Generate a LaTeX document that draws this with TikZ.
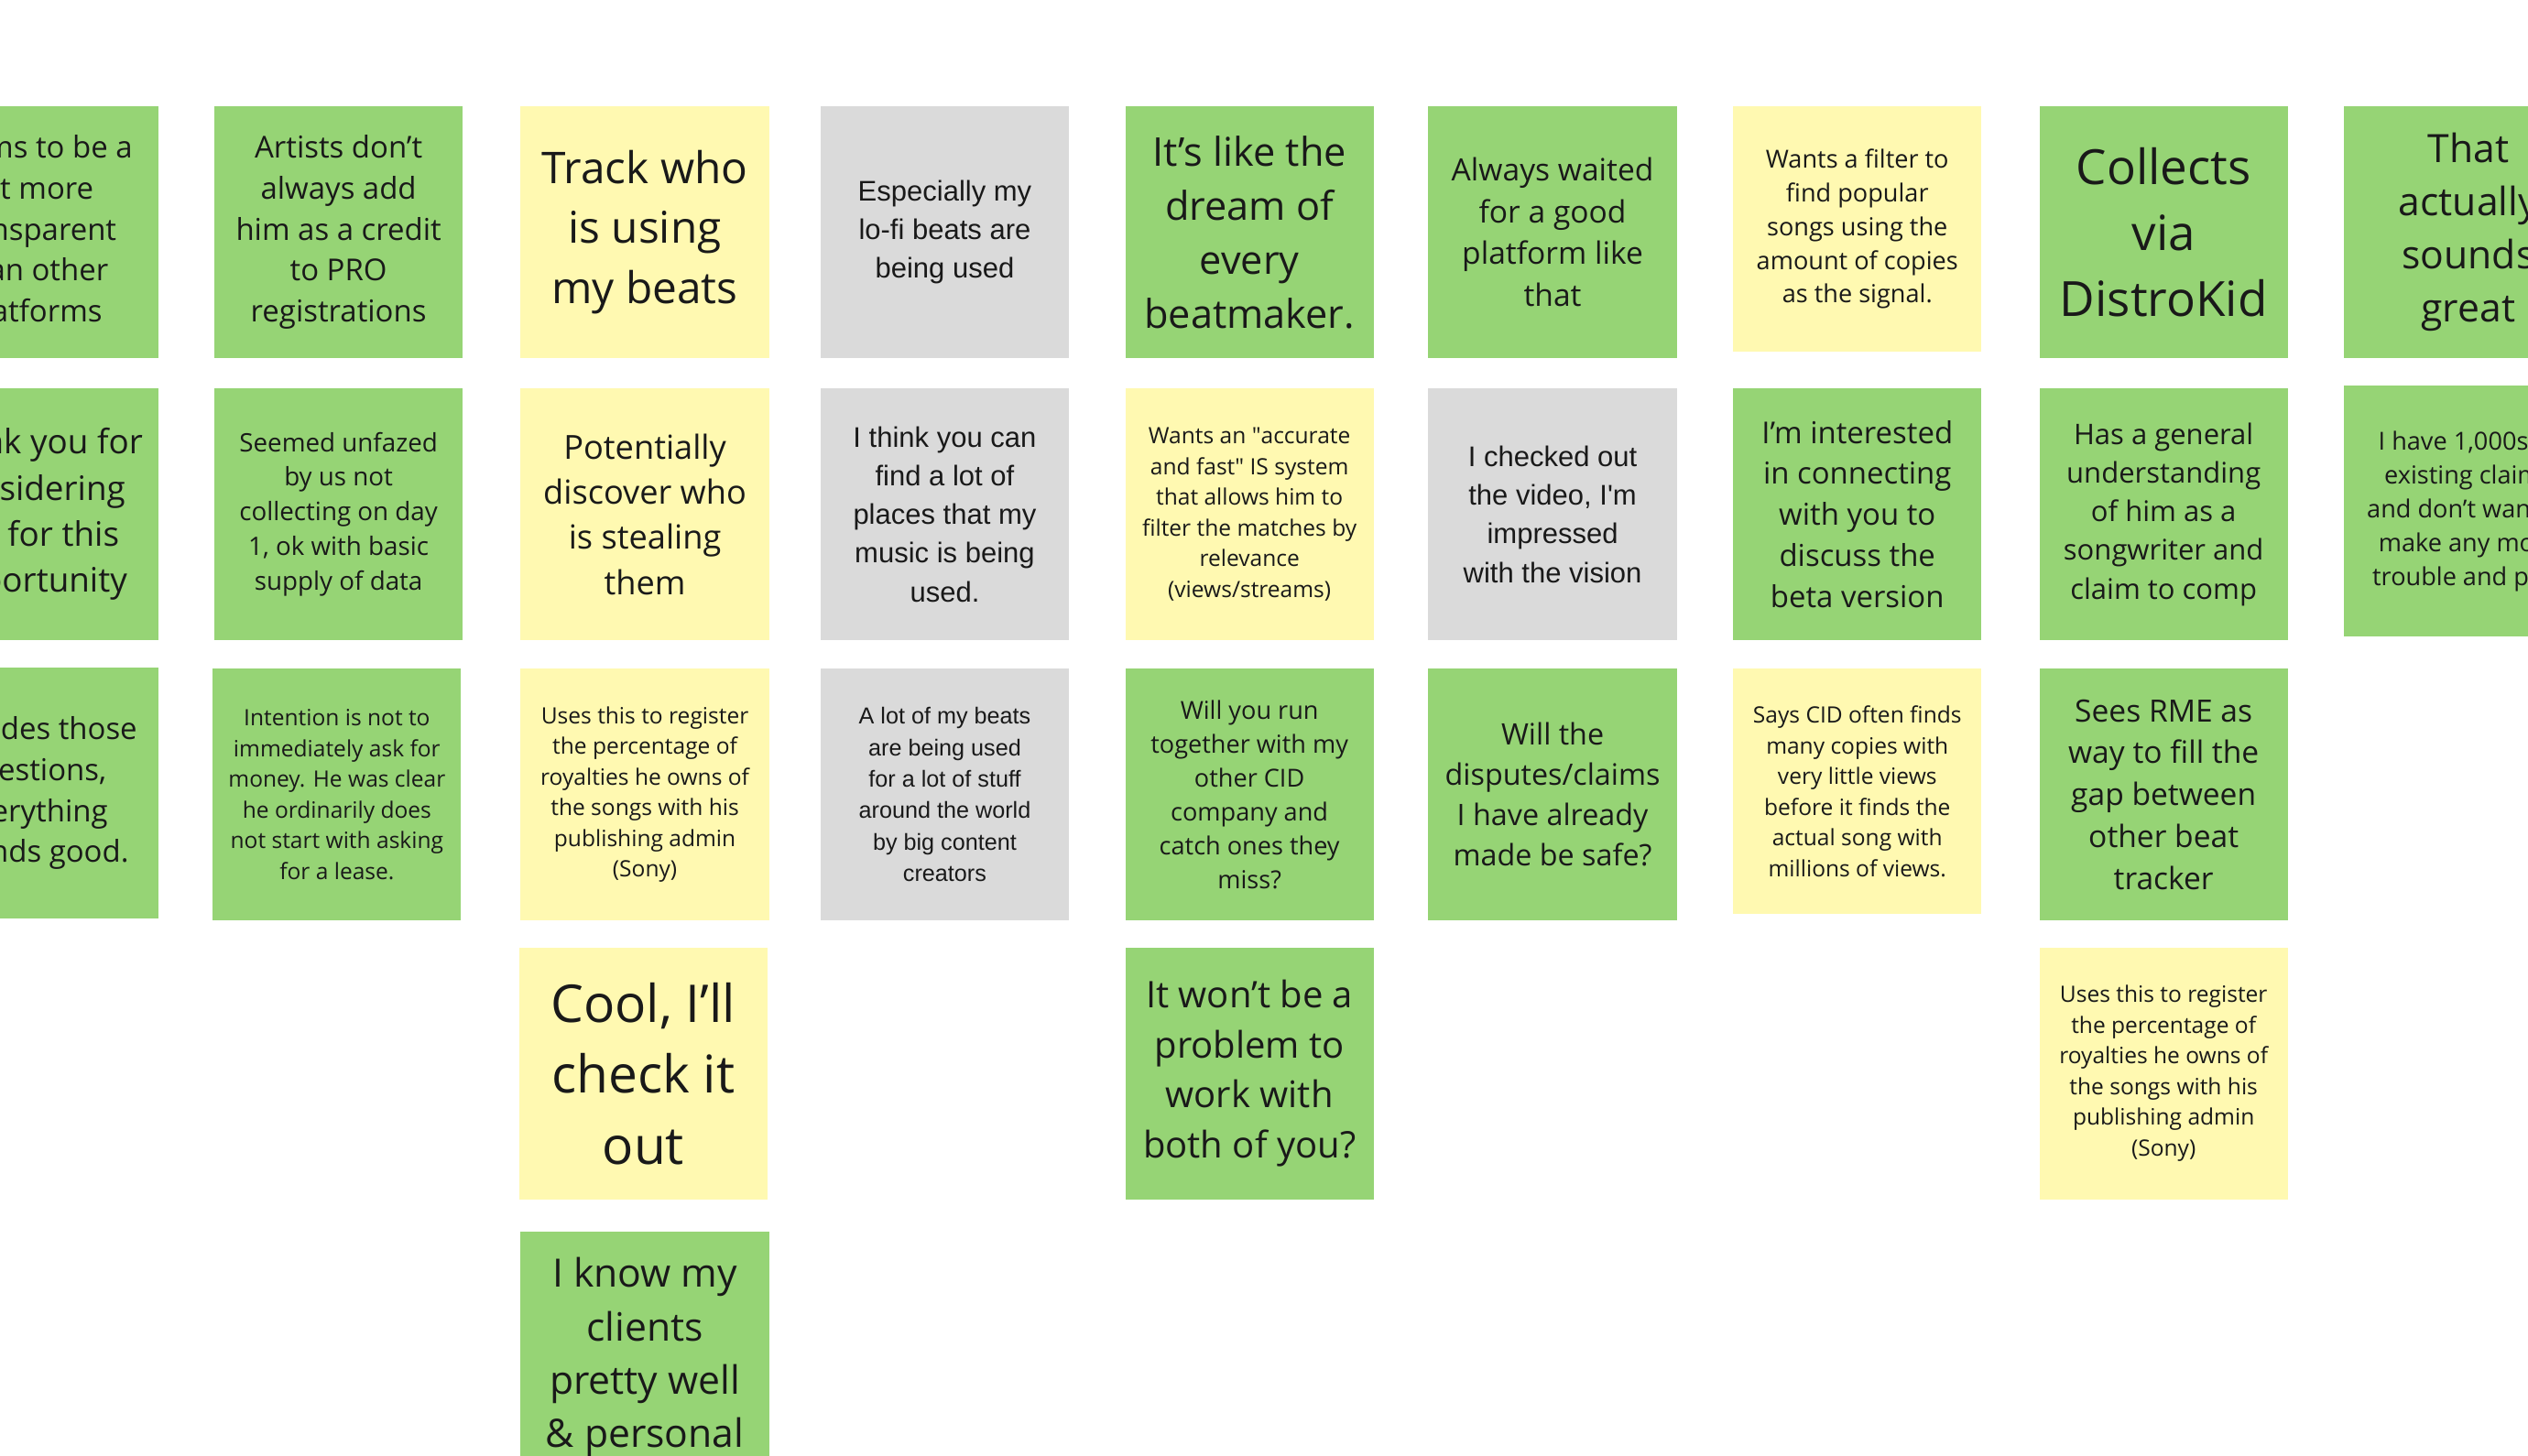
\documentclass[tikz,border=0pt]{standalone}
\usepackage{fontspec}
\setmainfont{Open Sans}
\newfontfamily\arialish{Liberation Sans}
\usetikzlibrary{positioning}
\definecolor{stickygreen}{RGB}{150,212,117}
\definecolor{stickyyellow}{RGB}{255,249,177}
\definecolor{stickygray}{RGB}{218,218,218}
\let\notefam\relax

\begin{document}
\begin{tikzpicture}[x=0.01cm, y=-0.01cm]
\tikzset{note/.style={rectangle, minimum width=1.54cm, minimum height=1.56cm,
                      align=center, inner sep=0pt, text=black!90},
  fs/.style 2 args={font={\notefam\fontsize{\fpeval{#1*0.94}pt}{#2pt}\selectfont}},
  gn/.style={note, fill=stickygreen},
  yn/.style={note, fill=stickyyellow},
  an/.style={note, fill=stickygray, /utils/exec={\let\notefam\arialish}}}
\useasboundingbox (0,0) rectangle (1568,903);
\clip (0,0) rectangle (1568,903);
\fill[white] (0,0) rectangle (1568,903);
% column 0 (cut off)
\node[gn, fs={5.66}{7.25}] (a0) at (21,144) {Seems to be a\\bit more\\transparent\\than other\\platforms};
\node[gn, fs={6.33}{8.11}] (a1) at (21,319) {Thank you for\\considering\\me for this\\opportunity};
\node[gn, fs={5.66}{7.25}] (a2) at (21,492) {Provides those\\questions,\\everything\\sounds good.};
% column 1
\node[gn, fs={5.66}{7.25}] (b0) at (210,144) {Artists don't\\always add\\him as a credit\\to PRO\\registrations};
\node[gn, fs={4.77}{6.12}] (b1) at (210,319) {Seemed unfazed\\by us not\\collecting on day\\1, ok with basic\\supply of data};
\node[gn, fs={4.22}{5.41}] (b2) at (209,493) {Intention is not to\\immediately ask for\\money. He was clear\\he ordinarily does\\not start with asking\\for a lease.};
% column 2
\node[yn, fs={8.21}{10.53}] (c0) at (400,144) {Track who\\is using\\my beats};
\node[yn, fs={6.22}{7.97}] (c1) at (400,319) {Potentially\\discover who\\is stealing\\them};
\node[yn, fs={4.22}{5.41}] (c2) at (400,493) {Uses this to register\\the percentage of\\royalties he owns of\\the songs with his\\publishing admin\\(Sony)};
\node[yn, fs={9.77}{12.52}] (c3) at (399,666) {Cool, I'll\\check it\\out};
\node[gn, fs={7.33}{9.39}] (c4) at (400,842) {I know my\\clients\\pretty well\\\& personal};
% column 3
\node[an, fs={5.33}{6.83}] (d0) at (586,144) {Especially my\\lo-fi beats are\\being used};
\node[an, fs={5.33}{6.83}] (d1) at (586,319) {I think you can\\find a lot of\\places that my\\music is being\\used.};
\node[an, fs={4.33}{5.55}] (d2) at (586,493) {A lot of my beats\\are being used\\for a lot of stuff\\around the world\\by big content\\creators};
% column 4
\node[gn, fs={7.44}{9.53}] (e0) at (775,144) {It's like the\\dream of\\every\\beatmaker.};
\node[yn, fs={4.22}{5.41}] (e1) at (775,319) {Wants an \textquotedbl accurate\\and fast\textquotedbl{} IS system\\that allows him to\\filter the matches by\\relevance\\(views/streams)};
\node[gn, fs={4.66}{5.97}] (e2) at (775,493) {Will you run\\together with my\\other CID\\company and\\catch ones they\\miss?};
\node[gn, fs={6.88}{8.82}] (e3) at (775,666) {It won't be a\\problem to\\work with\\both of you?};
% column 5
\node[gn, fs={5.77}{7.40}] (f0) at (963,144) {Always waited\\for a good\\platform like\\that};
\node[an, fs={5.33}{6.83}] (f1) at (963,319) {I checked out\\the video, I'm\\impressed\\with the vision};
\node[gn, fs={5.55}{7.11}] (f2) at (963,493) {Will the\\disputes/claims\\I have already\\made be safe?};
% column 6
\node[yn, minimum height=1.52cm, fs={4.66}{5.97}] (g0) at (1152,142) {Wants a filter to\\find popular\\songs using the\\amount of copies\\as the signal.};
\node[gn, fs={5.66}{7.25}] (g1) at (1152,319) {I'm interested\\in connecting\\with you to\\discuss the\\beta version};
\node[yn, minimum height=1.52cm, fs={4.22}{5.41}] (g2) at (1152,491) {Says CID often finds\\many copies with\\very little views\\before it finds the\\actual song with\\millions of views.};
% column 7
\node[gn, fs={9.10}{11.66}] (h0) at (1342,144) {Collects\\via\\DistroKid};
\node[gn, fs={5.33}{6.83}] (h1) at (1342,319) {Has a general\\understanding\\of him as a\\songwriter and\\claim to comp};
\node[gn, fs={5.77}{7.40}] (h2) at (1342,493) {Sees RME as\\way to fill the\\gap between\\other beat\\tracker};
\node[yn, fs={4.22}{5.41}] (h3) at (1342,666) {Uses this to register\\the percentage of\\royalties he owns of\\the songs with his\\publishing admin\\(Sony)};
% column 8 (cut off)
\node[gn, fs={7.33}{9.39}] (i0) at (1531,144) {That\\actually\\sounds\\great};
\node[gn, fs={4.66}{5.97}] (i1) at (1531,317) {I have 1,000s of\\existing claims\\and don't want to\\make any more\\trouble and pain};
\end{tikzpicture}
\end{document}
